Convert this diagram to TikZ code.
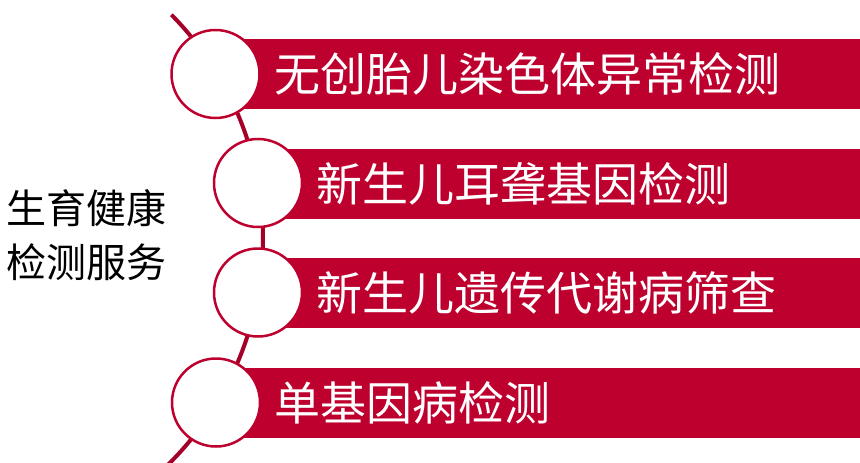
\documentclass[tikz,border=0pt]{standalone}
\usepackage{fontspec}
\usetikzlibrary{calc}
\newfontfamily\cjk{Noto Sans CJK SC}
\definecolor{barred}{RGB}{190,0,46}
\definecolor{linered}{RGB}{165,0,40}
\begin{document}
\begin{tikzpicture}[x=1pt,y=-1pt,
  bar/.style={fill=barred,draw=none,rectangle,anchor=west,minimum height=70pt,inner sep=0pt},
  dot/.style={circle,draw=barred,line width=2.5pt,fill=white,minimum size=88pt,inner sep=0pt},
  label/.style={anchor=west,inner sep=0pt,text=white,font=\cjk\fontsize{46}{50}\selectfont},
  arcline/.style={draw=linered,line width=4pt}]
\useasboundingbox (0,0) rectangle (860,463);
\begin{scope}
\clip (0,0) rectangle (860,463);
\coordinate (C) at (-55,238);
\draw[arcline] ($(C)+(-44.6:318)$) arc[start angle=-44.6,end angle=47,radius=318];
\end{scope}
% bars
\node[bar,minimum width=645pt] (b1) at (215,74) {};
\node[bar,minimum width=602pt] (b2) at (258,184) {};
\node[bar,minimum width=602pt] (b3) at (258,293) {};
\node[bar,minimum width=644pt] (b4) at (216,403) {};
% circles
\node[dot] (c1) at (215.5,74) {};
\node[dot] (c2) at (258,183) {};
\node[dot] (c3) at (258,292.5) {};
\node[dot] (c4) at (216,402.5) {};
% labels
\node[label] (t1) at (274,74) {无创胎儿染色体异常检测};
\node[label] (t2) at (316,184) {新生儿耳聋基因检测};
\node[label] (t3) at (316,293) {新生儿遗传代谢病筛查};
\node[label] (t4) at (274,403) {单基因病检测};
\node[anchor=west,inner sep=0pt,align=left,font=\cjk\fontsize{40}{54}\selectfont] (title) at (6,235) {生育健康\\检测服务};
\end{tikzpicture}
\end{document}
